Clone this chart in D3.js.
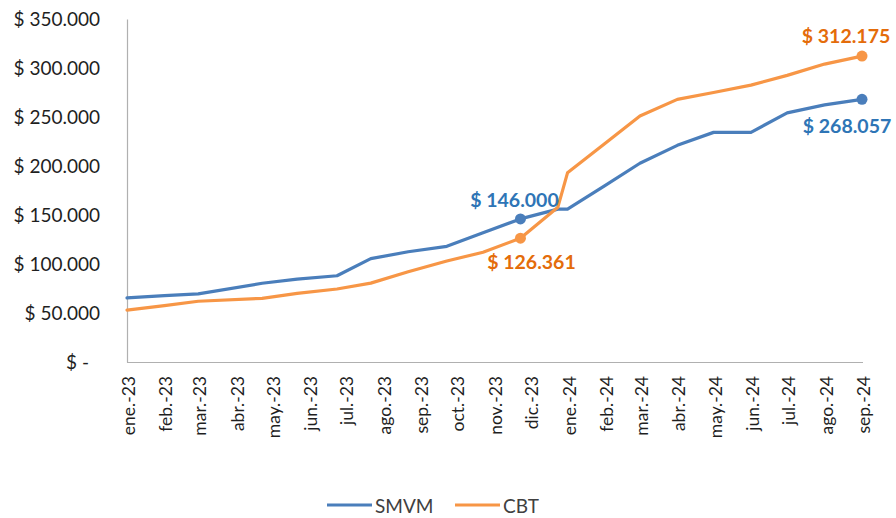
<!DOCTYPE html>
<html>
<head>
<meta charset="utf-8">
<script src="https://cdn.jsdelivr.net/npm/d3@7"></script>
<style>
  html, body { margin: 0; padding: 0; background: #ffffff; }
  svg { display: block; }
</style>
</head>
<body>
<svg id="chart" width="896" height="518"></svg>
<script>
// ---- data ----
const tickLabels = ["ene.-23","feb.-23","mar.-23","abr.-23","may.-23","jun.-23","jul.-23","ago.-23","sep.-23","oct.-23","nov.-23","dic.-23",
                    "ene.-24","feb.-24","mar.-24","abr.-24","may.-24","jun.-24","jul.-24","ago.-24","sep.-24"];
const pointDates = ["2023-01-01","2023-02-01","2023-03-01","2023-04-23","2023-05-22","2023-06-24","2023-07-22","2023-08-22",
                    "2023-09-23","2023-10-23","2023-11-23","2023-12-24","2024-01-01","2024-02-01","2024-03-01","2024-04-01",
                    "2024-05-01","2024-06-01","2024-07-01","2024-08-01","2024-09-01"];
const smvm = [65427, 67743, 69500, 80342, 84512, 87987, 105500, 112500, 118000, 132000, 146000, 156000,
              156000, 180000, 202800, 221052, 234315, 234315, 254231, 262432, 268057];
const cbt  = [53000, 57500, 62000, 65000, 70000, 74500, 80500, 92000, 103000, 112000, 126361, 158000,
              193000, 223000, 251000, 268000, 275000, 282500, 292500, 304000, 312175];
const yTicks = [0, 50000, 100000, 150000, 200000, 250000, 300000, 350000];
const seriesNames = ["SMVM", "CBT"];
const labelIndices = [10, 20]; // annotated points

// ---- setup ----
const parse = d3.timeParse("%Y-%m-%d");
const dates = pointDates.map(parse);
const tickDates = d3.timeMonth.range(new Date(2023, 0, 1), new Date(2024, 8, 2));

const loc = d3.formatLocale({decimal: ",", thousands: ".", grouping: [3], currency: ["$ ", ""]});
const fmt = loc.format(",.0f");
const money = v => v === 0 ? "$ -" : "$ " + fmt(v);

const svg = d3.select("#chart");
const mLeft = 127, mRight = 862, mTop = 19, mBottom = 362;

const x = d3.scaleTime().domain([new Date(2023, 0, 1), new Date(2024, 8, 1)]).range([mLeft, mRight]);
const y = d3.scaleLinear().domain([0, 350000]).range([mBottom, mTop]);

const lineColors = ["#4a7ebb", "#f79646"];
const textColors = ["#2e75b6", "#e46c0a"];
const FONT = "Lato, 'Open Sans', sans-serif";

// ---- y axis ----
const yAxis = svg.append("g").attr("transform", `translate(${mLeft},0)`)
  .call(d3.axisLeft(y).tickValues(yTicks).tickFormat(money).tickSize(0).tickPadding(27));
yAxis.select(".domain").attr("stroke", "#b0b0b0").attr("stroke-width", 1.2);
yAxis.selectAll("text")
  .attr("font-family", FONT).attr("font-size", 19).attr("fill", "#1f1f1f")
  .attr("dx", d => d === 0 ? -11 : 0);

// ---- x axis ----
const xAxis = svg.append("g").attr("transform", `translate(0,${mBottom})`)
  .call(d3.axisBottom(x).tickValues(tickDates).tickFormat((d, i) => tickLabels[i]).tickSize(0));
xAxis.select(".domain").attr("stroke", "#b0b0b0").attr("stroke-width", 1.2)
  .attr("d", `M${mLeft},0.5H${mRight + 1}`);
xAxis.selectAll(".tick text")
  .attr("font-family", FONT).attr("font-size", 17.5).attr("fill", "#1f1f1f")
  .attr("text-anchor", "end")
  .attr("dominant-baseline", "central")
  .attr("dy", null)
  .attr("y", 0)
  .attr("transform", "translate(1,14) rotate(-90)");

// ---- lines ----
const series = [smvm, cbt];
const line = d3.line().x((d, i) => x(dates[i])).y(d => y(d));
series.forEach((vals, s) => {
  svg.append("path").datum(vals)
    .attr("fill", "none").attr("stroke", lineColors[s]).attr("stroke-width", 3.2)
    .attr("stroke-linejoin", "round").attr("stroke-linecap", "round")
    .attr("d", line);
});

// ---- markers ----
series.forEach((vals, s) => {
  labelIndices.forEach(idx => {
    svg.append("circle").attr("cx", x(dates[idx])).attr("cy", y(vals[idx]))
      .attr("r", 5.5).attr("fill", lineColors[s]);
  });
});

// ---- data labels: offsets relative to marker [dx center, dy baseline] ----
const lblPos = [
  [[-6, -12], [-15, 34]],
  [[11, 31], [-16, -13]]
];
series.forEach((vals, s) => {
  labelIndices.forEach((idx, k) => {
    const cx = x(dates[idx]), cy = y(vals[idx]);
    svg.append("text")
      .attr("x", cx + lblPos[s][k][0]).attr("y", cy + lblPos[s][k][1])
      .attr("text-anchor", "middle")
      .attr("font-family", FONT).attr("font-weight", "bold").attr("font-size", 19.5)
      .attr("fill", textColors[s])
      .text(money(vals[idx]));
  });
});

// ---- legend ----
const legendX = [327, 455];
seriesNames.forEach((name, s) => {
  const g = svg.append("g").attr("transform", `translate(${legendX[s]},505)`);
  g.append("line").attr("x1", 0).attr("x2", 45).attr("y1", 0).attr("y2", 0)
    .attr("stroke", lineColors[s]).attr("stroke-width", 3.2);
  g.append("text").attr("x", 48).attr("y", 0).attr("dominant-baseline", "central")
    .attr("font-family", FONT).attr("font-size", 19).attr("fill", "#404040").text(name);
});
</script>
</body>
</html>
